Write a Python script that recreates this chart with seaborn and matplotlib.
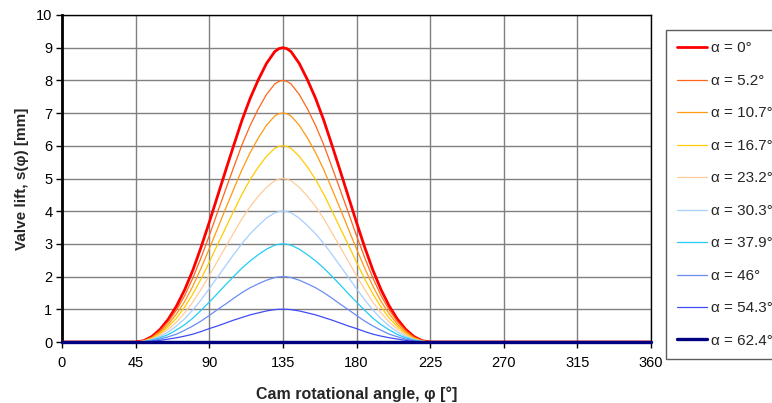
import matplotlib
matplotlib.use("Agg")
import matplotlib.pyplot as plt
import seaborn as sns
import pandas as pd

angles = [0, 45, 50, 55, 60, 65, 70, 75, 80, 85, 90, 95, 100, 105, 110, 115, 120, 125, 130, 132.5,
          135, 137.5, 140, 145, 150, 155, 160, 165, 170, 175, 180, 185, 190, 195, 200, 205, 210,
          215, 220, 225, 360]

lift_a0 = [0, 0, 0.04, 0.17, 0.39, 0.70, 1.10, 1.60, 2.20, 2.90, 3.66, 4.45, 5.24, 6.02, 6.78, 7.45, 8.02, 8.52, 8.88, 8.97,
           9.00, 8.97, 8.88, 8.52, 8.02, 7.45, 6.78, 6.02, 5.24, 4.45, 3.66, 2.90, 2.20, 1.60, 1.10, 0.70, 0.39, 0.17, 0.04, 0, 0]
lift_a5_2 = [0, 0, 0.04, 0.15, 0.35, 0.62, 0.98, 1.42, 1.96, 2.58, 3.25, 3.96, 4.66, 5.35, 6.03, 6.62, 7.13, 7.57, 7.89, 7.97,
             8.00, 7.97, 7.89, 7.57, 7.13, 6.62, 6.03, 5.35, 4.66, 3.96, 3.25, 2.58, 1.96, 1.42, 0.98, 0.62, 0.35, 0.15, 0.04, 0, 0]
lift_a10_7 = [0, 0, 0.03, 0.13, 0.30, 0.54, 0.86, 1.24, 1.71, 2.26, 2.85, 3.46, 4.08, 4.68, 5.27, 5.79, 6.24, 6.63, 6.91, 6.98,
              7.00, 6.98, 6.91, 6.63, 6.24, 5.79, 5.27, 4.68, 4.08, 3.46, 2.85, 2.26, 1.71, 1.24, 0.86, 0.54, 0.30, 0.13, 0.03, 0, 0]
lift_a16_7 = [0, 0, 0.03, 0.11, 0.26, 0.47, 0.73, 1.07, 1.47, 1.93, 2.44, 2.97, 3.49, 4.01, 4.52, 4.97, 5.35, 5.68, 5.92, 5.98,
              6.00, 5.98, 5.92, 5.68, 5.35, 4.97, 4.52, 4.01, 3.49, 2.97, 2.44, 1.93, 1.47, 1.07, 0.73, 0.47, 0.26, 0.11, 0.03, 0, 0]
lift_a23_2 = [0, 0, 0.02, 0.09, 0.22, 0.39, 0.61, 0.89, 1.22, 1.61, 2.03, 2.47, 2.91, 3.34, 3.77, 4.14, 4.46, 4.73, 4.93, 4.98,
              5.00, 4.98, 4.93, 4.73, 4.46, 4.14, 3.77, 3.34, 2.91, 2.47, 2.03, 1.61, 1.22, 0.89, 0.61, 0.39, 0.22, 0.09, 0.02, 0, 0]
lift_a30_3 = [0, 0, 0.02, 0.08, 0.17, 0.31, 0.49, 0.71, 0.98, 1.29, 1.63, 1.98, 2.33, 2.68, 3.01, 3.31, 3.56, 3.79, 3.95, 3.99,
              4.00, 3.99, 3.95, 3.79, 3.56, 3.31, 3.01, 2.68, 2.33, 1.98, 1.63, 1.29, 0.98, 0.71, 0.49, 0.31, 0.17, 0.08, 0.02, 0, 0]
lift_a37_9 = [0, 0, 0.01, 0.06, 0.13, 0.23, 0.37, 0.53, 0.73, 0.97, 1.22, 1.48, 1.75, 2.01, 2.26, 2.48, 2.67, 2.84, 2.96, 2.99,
              3.00, 2.99, 2.96, 2.84, 2.67, 2.48, 2.26, 2.01, 1.75, 1.48, 1.22, 0.97, 0.73, 0.53, 0.37, 0.23, 0.13, 0.06, 0.01, 0, 0]
lift_a46 = [0, 0, 0.01, 0.04, 0.09, 0.16, 0.24, 0.36, 0.49, 0.64, 0.81, 0.99, 1.16, 1.34, 1.51, 1.66, 1.78, 1.89, 1.97, 1.99,
            2.00, 1.99, 1.97, 1.89, 1.78, 1.66, 1.51, 1.34, 1.16, 0.99, 0.81, 0.64, 0.49, 0.36, 0.24, 0.16, 0.09, 0.04, 0.01, 0, 0]
lift_a54_3 = [0, 0, 0.00, 0.02, 0.05, 0.09, 0.13, 0.18, 0.24, 0.32, 0.41, 0.49, 0.58, 0.67, 0.75, 0.83, 0.89, 0.95, 0.99, 1.00,
              1.00, 1.00, 0.99, 0.95, 0.89, 0.83, 0.75, 0.67, 0.58, 0.49, 0.41, 0.32, 0.24, 0.18, 0.13, 0.09, 0.05, 0.02, 0.00, 0, 0]
lift_a62_4 = [0, 0, 0, 0, 0, 0, 0, 0, 0, 0, 0, 0, 0, 0, 0, 0, 0, 0, 0, 0,
              0, 0, 0, 0, 0, 0, 0, 0, 0, 0, 0, 0, 0, 0, 0, 0, 0, 0, 0, 0, 0]

labels = ["α = 0°", "α = 5.2°", "α = 10.7°", "α = 16.7°", "α = 23.2°",
          "α = 30.3°", "α = 37.9°", "α = 46°", "α = 54.3°", "α = 62.4°"]
series = [lift_a0, lift_a5_2, lift_a10_7, lift_a16_7, lift_a23_2,
          lift_a30_3, lift_a37_9, lift_a46, lift_a54_3, lift_a62_4]
colors = ["#FF0000", "#FF6619", "#FF9910", "#FFCC00", "#FFCC99",
          "#A6CFFF", "#22CCF5", "#6A8CF5", "#3F4CF5", "#000080"]
widths = [2.0, 0.9, 0.9, 0.9, 0.9, 0.9, 0.9, 0.9, 0.9, 2.4]

xticks = [0, 45, 90, 135, 180, 225, 270, 315, 360]
yticks = [0, 1, 2, 3, 4, 5, 6, 7, 8, 9, 10]

sns.set_style("white")
plt.rcParams['font.family'] = ['Liberation Sans', 'DejaVu Sans']

fig = plt.figure(figsize=(7.72, 4.03), dpi=100)
ax = fig.add_axes([62 / 772, 1 - 342 / 403, (651 - 62) / 772, (342 - 15) / 403])

for i, (lab, ys, c, w) in enumerate(zip(labels, series, colors, widths)):
    df = pd.DataFrame({"angle": angles, "lift": ys})
    sns.lineplot(data=df, x="angle", y="lift", ax=ax, color=c, linewidth=w,
                 label=lab, zorder=3 + i, clip_on=(i != len(labels) - 1),
                 legend=False)

ax.set_xlim(0, 360)
ax.set_ylim(0, 10)
ax.set_xticks(xticks)
ax.set_yticks(yticks)
ax.grid(True, color="#808080", linewidth=1.0, zorder=0)
ax.set_axisbelow(True)
for s in ["top", "right"]:
    ax.spines[s].set_color("black")
    ax.spines[s].set_linewidth(1.0)
ax.spines["left"].set_color("black")
ax.spines["left"].set_linewidth(2.0)
ax.spines["bottom"].set_color("black")
ax.spines["bottom"].set_linewidth(1.5)
ax.tick_params(axis="both", which="both", direction="out", length=4, width=1,
               color="black", labelsize=10.5, labelcolor="black", pad=3)
ax.tick_params(axis="x", pad=6)
ax.tick_params(left=True, bottom=True)

ax.set_xlabel("Cam rotational angle, φ [°]", fontsize=11.5, fontweight="bold", labelpad=12)
ax.set_ylabel("Valve lift, s(φ) [mm]", fontsize=11, fontweight="bold", labelpad=5)

handles = ax.get_lines()[:len(labels)]
leg = fig.legend(handles, labels, loc="upper left",
                 bbox_to_anchor=(666 / 772, 1 - 30 / 403),
                 fontsize=11, frameon=True, fancybox=False, shadow=False,
                 handlelength=1.95, handletextpad=0.25, labelspacing=1.21,
                 borderpad=0.75, borderaxespad=0.0)
leg.get_frame().set_edgecolor("#333333")
leg.get_frame().set_linewidth(1.0)

fig.savefig("out.png", dpi=100)
